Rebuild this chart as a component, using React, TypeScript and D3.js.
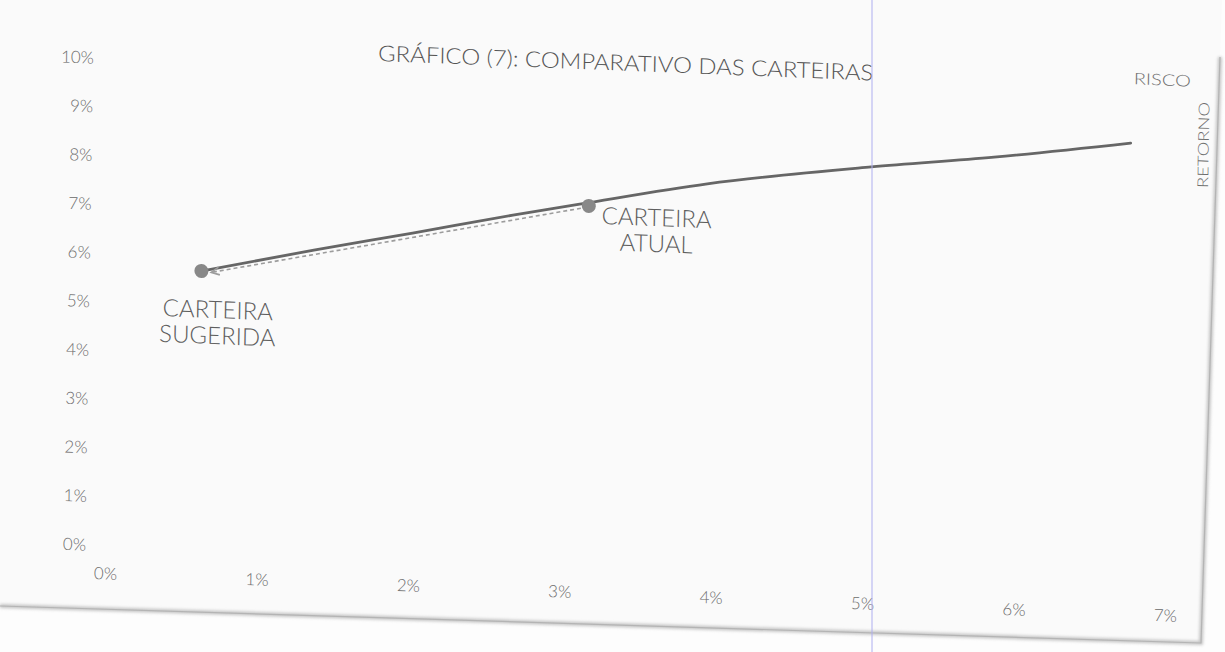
import React from "react";
import * as d3 from "d3";

const W = 1225;
const H = 652;

// Axis ticks (percent)
const xTicks = [0, 1, 2, 3, 4, 5, 6, 7];
const yTicks = [0, 1, 2, 3, 4, 5, 6, 7, 8, 9, 10];

// Efficient frontier: risk (%) vs return (%)
const frontierRisk = [0.6, 1.34, 1.99, 2.65, 3.09, 3.93, 5.01, 5.82, 6.72];
const frontierReturn = [5.7, 6.22, 6.65, 7.1, 7.38, 7.9, 8.38, 8.68, 9.08];

// Portfolios
const portfolioLines = [
  ["CARTEIRA", "SUGERIDA"],
  ["CARTEIRA", "ATUAL"],
];
const portfolioRisk = [0.6, 3.15];
const portfolioReturn = [5.7, 7.35];

const title = "GRÁFICO (7): COMPARATIVO DAS CARTEIRAS";
const xAxisName = "RISCO";
const yAxisName = "RETORNO";

const FONT = "Lato, 'Open Sans', sans-serif";
const TEXT = "#6e6e6e";

export default function App() {
  const x = d3.scaleLinear().domain([0, 7]).range([106, 106 + 7 * 151.4]);
  const y = d3.scaleLinear().domain([0, 10]).range([545, 58]);

  const frontier = frontierRisk.map((r, i) => [r, frontierReturn[i]] as [number, number]);
  const line = d3
    .line<[number, number]>()
    .x((d) => x(d[0]))
    .y((d) => y(d[1]))
    .curve(d3.curveMonotoneX);

  const pts = portfolioRisk.map((r, i) => ({ px: x(r), py: y(portfolioReturn[i]) }));
  const labelOffsets = [
    { dx: 17, dy: 37 },
    { dx: 68, dy: 8 },
  ];

  // dashed move arrow: current -> suggested
  const from = pts[1];
  const to = pts[0];
  const ang = Math.atan2(to.py - from.py, to.px - from.px);
  const r = 8;
  const sx = from.px + Math.cos(ang) * r;
  const sy = from.py + Math.sin(ang) * r + 1;
  const ex = to.px - Math.cos(ang) * (r + 2);
  const ey = to.py - Math.sin(ang) * (r + 2) + 3;
  const head = 9;
  const a1 = ang + Math.PI - 0.45;
  const a2 = ang + Math.PI + 0.45;

  return (
    <svg
      width={W}
      height={H}
      style={{ position: "absolute", left: 0, top: 0, background: "#fdfdfd" }}
    >
      <defs>
        <filter id="soft" x="-5%" y="-50%" width="110%" height="200%">
          <feGaussianBlur stdDeviation="1.6" />
        </filter>
      </defs>
      {/* sheet of paper */}
      <polygon points="0,0 1222,0 1220,57 1201,643 0,606" fill="#fafafa" />
      <polyline
        points="0,606 1201,643 1220,57"
        fill="none"
        stroke="#c4c4c4"
        strokeWidth={4}
        filter="url(#soft)"
      />
      <polyline points="0,606 1201,643 1220,57" fill="none" stroke="#b4b4b4" strokeWidth={1.2} />

      <g transform="matrix(1 0.0396 -0.0164 1 8.94 -4.2)" fontFamily={FONT}>
        <text
          x={370}
          y={42}
          fontSize={22}
          fontWeight={300}
          fill="#555"
          dominantBaseline="central"
          textLength={495}
          lengthAdjust="spacingAndGlyphs"
        >
          {title}
        </text>

        {yTicks.map((t) => (
          <text
            key={"y" + t}
            x={86}
            y={y(t)}
            textAnchor="end"
            dominantBaseline="central"
            fontSize={17}
            fontWeight={300}
            fill={TEXT}
          >
            {t}%
          </text>
        ))}
        {xTicks.map((t) => (
          <text
            key={"x" + t}
            x={x(t)}
            y={573}
            textAnchor="middle"
            dominantBaseline="central"
            fontSize={17}
            fontWeight={300}
            fill={TEXT}
          >
            {t}%
          </text>
        ))}

        <text
          x={1154}
          y={37.5}
          textAnchor="middle"
          dominantBaseline="central"
          fontSize={16}
          fontWeight={300}
          fill={TEXT}
          textLength={57}
          lengthAdjust="spacingAndGlyphs"
        >
          {xAxisName}
        </text>
        <text
          transform="translate(1195.4,101.9) rotate(-90)"
          textAnchor="middle"
          dominantBaseline="central"
          fontSize={15}
          fontWeight={300}
          fill={TEXT}
          textLength={86}
          lengthAdjust="spacingAndGlyphs"
        >
          {yAxisName}
        </text>

        <path d={line(frontier) || ""} fill="none" stroke="#666666" strokeWidth={2.8} strokeLinecap="round" />

        <line
          x1={sx}
          y1={sy}
          x2={ex}
          y2={ey}
          stroke="#9c9c9c"
          strokeWidth={1.6}
          strokeDasharray="4 3"
        />
        <polyline
          points={`${ex + Math.cos(a1) * head},${ey + Math.sin(a1) * head} ${ex},${ey} ${
            ex + Math.cos(a2) * head
          },${ey + Math.sin(a2) * head}`}
          fill="none"
          stroke="#9c9c9c"
          strokeWidth={1.6}
        />

        {pts.map((p, i) => (
          <circle key={"p" + i} cx={p.px} cy={p.py} r={7} fill="#888888" />
        ))}

        {pts.map((p, i) =>
          portfolioLines[i].map((s, j) => (
            <text
              key={"l" + i + j}
              x={p.px + labelOffsets[i].dx}
              y={p.py + labelOffsets[i].dy + j * 26}
              textAnchor="middle"
              dominantBaseline="central"
              fontSize={24}
              fontWeight={300}
              fill="#5e5e5e"
            >
              {s}
            </text>
          ))
        )}
      </g>

      {/* viewer guide line */}
      <line x1={872} y1={0} x2={872} y2={H} stroke="#aeaef0" strokeWidth={1} />
    </svg>
  );
}
